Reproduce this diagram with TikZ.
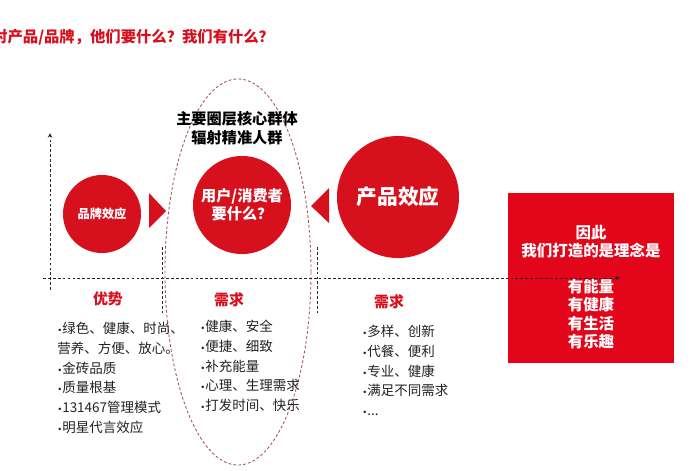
\documentclass[tikz,border=0pt]{standalone}
\usepackage{fontspec}
\setmainfont{Noto Sans CJK SC}
\newfontfamily\dotfont{DejaVu Sans}
\newcommand{\itm}{{\dotfont\fontsize{6}{6}\selectfont •}}
\definecolor{mainred}{HTML}{D7101E}
\definecolor{boxred}{HTML}{E3061A}
\definecolor{ringred}{HTML}{A65058}
\definecolor{textgray}{HTML}{222222}

\begin{document}
\begin{tikzpicture}[x=0.025cm, y=-0.025cm,
  axis/.style={draw=black!85, dash pattern=on 2pt off 1.5pt, line width=0.5pt},
  effect/.style={circle, fill=mainred, text=white, inner sep=0pt, align=center},
  head/.style={text=mainred, font=\bfseries\fontsize{10.6}{12}\selectfont},
  items/.style={anchor=north west, align=left, inner sep=0pt, text=textgray, font=\fontsize{9.6}{14}\selectfont}]
  \useasboundingbox (0,0) rectangle (700,470);

  \node[anchor=west, inner sep=0pt, text=mainred, font=\bfseries\fontsize{10.9}{13}\selectfont] (title) at (-8,37) {对产品/品牌，他们要什么？我们有什么？};

  % the ring round the users
  \draw[ringred, dash pattern=on 2pt off 1.5pt, line width=0.6pt] (238,272) ellipse [x radius=1.825cm, y radius=4.825cm];
  \node[align=center, font=\bfseries\fontsize{10.8}{13.5}\selectfont] (group) at (237,128) {主要圈层核心群体\\辐射精准人群};

  \node[effect, minimum size=1.95cm, font=\bfseries\fontsize{8.7}{10}\selectfont] (brand) at (102,214) {品牌效应};
  \node[effect, minimum size=2.45cm, font=\bfseries\fontsize{10.8}{13}\selectfont] (user) at (242,205) {用户/消费者\\要什么？};
  \node[effect, minimum size=3.05cm, font=\bfseries\fontsize{14.7}{17}\selectfont] (prod) at (398,197) {产品效应};
  \fill[mainred] (149,193) -- (166,211) -- (149,228) -- cycle;
  \fill[mainred] (329,188) -- (311,206) -- (329,223) -- cycle;

  \node[fill=boxred, minimum width=4.15cm, minimum height=4.25cm, inner sep=0pt] (box) at (591,278) {};
  \node[text=white, align=center, font=\bfseries\fontsize{11}{12.8}\selectfont] (thus) at (591,242) {因此\\我们打造的是理念是};
  \node[text=white, align=center, font=\bfseries\fontsize{11}{13}\selectfont] (values) at (591,314) {有能量\\有健康\\有生活\\有乐趣};

  % axes
  \coordinate (ybot) at (50,290);
  \coordinate (ytop) at (50,133);
  \coordinate (xleft) at (43,278);
  \coordinate (xright) at (620,278);
  \draw[axis, -stealth] (ybot) -- (ytop);
  \draw[axis, -stealth] (xleft) -- (xright);
  \draw[axis] (162,247) -- (162,313);
  \draw[axis] (317,247) -- (317,313);

  \node[head] (strength) at (108,299) {优势};
  \node[head] (needa) at (229,300) {需求};
  \node[head] (needb) at (389,302) {需求};

  \node[items] (strengthlist) at (57,322) {\itm 绿色、健康、时尚、\\营养、方便、放心。\\\itm 金砖品质\\\itm 质量根基\\\itm 131467管理模式\\\itm 明星代言效应};
  \node[items] (needalist) at (200,320) {\itm 健康、安全\\\itm 便捷、细致\\\itm 补充能量\\\itm 心理、生理需求\\\itm 打发时间、快乐};
  \node[items] (needblist) at (362,325) {\itm 多样、创新\\\itm 代餐、便利\\\itm 专业、健康\\\itm 满足不同需求\\\itm ...};
\end{tikzpicture}
\end{document}
